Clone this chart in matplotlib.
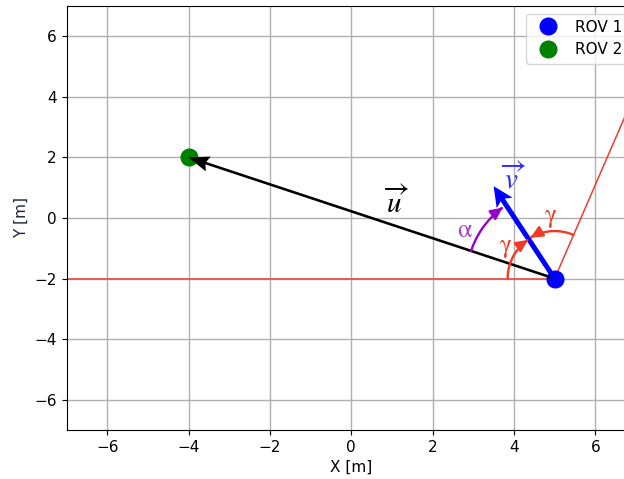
import numpy as np
import matplotlib
matplotlib.use("Agg")
import matplotlib.pyplot as plt
from matplotlib.path import Path
from matplotlib.patches import FancyArrowPatch
from matplotlib.transforms import ScaledTranslation

plt.rcParams["mathtext.fontset"] = "stix"

# Vehicle positions [m]
rov_names = ["ROV 1", "ROV 2"]
rov_x = [5.0, -4.0]
rov_y = [-2.0, 2.0]
rov_colors = ["blue", "green"]

# Velocity vector of ROV 1 [m]
v_vec = [-1.5, 3.05]
# Reference line direction through ROV 1 (data units)
ref_dir = [1.37, 4.24]

# Angle arcs drawn around ROV 1: (radius [in], start deg, end deg, colour)
arc_radius = [0.47, 0.475, 0.88]
arc_start = [180.0, 66.6, 161.7]
arc_end = [124.5, 120.5, 126.2]
arc_colors = ["#f03a24", "#f03a24", "#9a00cc"]

# Text labels
label_text = [r"$\overrightarrow{u}$", r"$\overrightarrow{v}$", r"$\mathrm{\alpha}$",
              r"$\mathrm{\gamma}$", r"$\mathrm{\gamma}$"]
label_x = [1.1, 3.98, 2.8, 3.79, 4.89]
label_y = [0.5, 1.3, -0.4, -0.99, 0.0]
label_colors = ["black", "#2b2bff", "#a84cc4", "#f03a24", "#f03a24"]
label_sizes = [21, 21, 19, 18, 18]

fig = plt.figure(figsize=(6.24, 4.79), dpi=100)
ax = fig.add_axes([66.5 / 624, 49 / 479, 569.5 / 624, 424 / 479])
ax.set_xlim(-7, 7)
ax.set_ylim(-7, 7)
ax.set_xticks(np.arange(-6, 7, 2))
ax.set_yticks(np.arange(-6, 7, 2))
ax.tick_params(labelsize=11)
ax.grid(True, color="#b0b0b0", lw=1.0)
ax.set_axisbelow(True)

x0, y0 = rov_x[0], rov_y[0]

# Reference lines through ROV 1
ax.plot([-8, x0], [y0, y0], color="#e84a40", lw=1.2, zorder=1.5)
ax.plot([x0, x0 + 2 * ref_dir[0]], [y0, y0 + 2 * ref_dir[1]], color="#ec3e30", lw=1.1, zorder=1.5)

# Vehicles
for name, x, y, c in zip(rov_names, rov_x, rov_y, rov_colors):
    ax.plot(x, y, "o", color=c, ms=12, label=name, zorder=2)

# Vector u from ROV 1 to ROV 2
ax.quiver(x0, y0, rov_x[1] - x0, rov_y[1] - y0, angles="xy", scale_units="xy", scale=1,
          units="dots", width=2.6, headwidth=6, headlength=8, headaxislength=7,
          color="black", zorder=3)
# Velocity vector v
ax.quiver(x0, y0, v_vec[0], v_vec[1], angles="xy", scale_units="xy", scale=1,
          units="dots", width=5, headwidth=3.8, headlength=4.0, headaxislength=3.3,
          color="blue", zorder=3)

# Angle arcs (circular on screen, centred on ROV 1)
arc_trans = fig.dpi_scale_trans + ScaledTranslation(x0, y0, ax.transData)
for r, a0, a1, c in zip(arc_radius, arc_start, arc_end, arc_colors):
    t = np.radians(np.linspace(a0, a1, 60))
    verts = np.column_stack([r * np.cos(t), r * np.sin(t)])
    arr = FancyArrowPatch(path=Path(verts), arrowstyle="-|>,head_length=0.42,head_width=0.2",
                          mutation_scale=17, lw=1.7, color=c, transform=arc_trans, zorder=3)
    ax.add_patch(arr)

for s, x, y, c, fs in zip(label_text, label_x, label_y, label_colors, label_sizes):
    ax.text(x, y, s, color=c, fontsize=fs, ha="center", va="center", zorder=4)

ax.set_xlabel("X [m]", fontsize=11)
ax.set_ylabel("Y [m]", fontsize=11, color="#1a2440")
ax.legend(loc="upper right", fontsize=11)

fig.savefig("out.png", dpi=100)
